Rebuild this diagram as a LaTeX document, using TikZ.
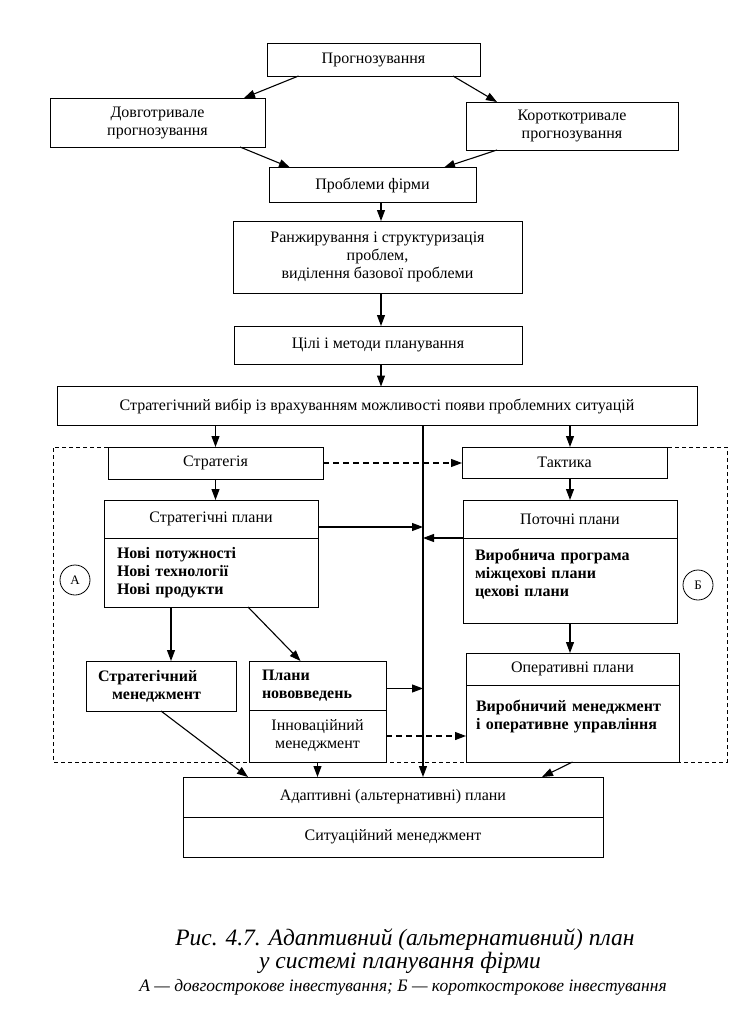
\documentclass[tikz,border=0pt]{standalone}
\usepackage{fontspec}
\setmainfont{Liberation Serif}
\usepackage{tikz}
\usetikzlibrary{arrows.meta,positioning,calc}
\tikzset{%
  box/.style={draw,line width=0.8pt,align=center,inner sep=3pt,outer sep=0pt},
  listbox/.style={box,font=\fontsize{16}{18}\selectfont\bfseries,align=left},
  arrow/.style={-{Triangle[length=11pt,width=8pt]}, line width=1.1pt}%
}

\begin{document}
\begin{tikzpicture}[
    x=1pt, y=-1pt,
    font=\fontsize{16}{18}\selectfont,
    dasharrow/.style={arrow, dash pattern=on 6pt off 4pt},
    frame/.style={draw, line width=0.8pt, dash pattern=on 4pt off 3pt},
    letter/.style={
        draw,
        circle,
        minimum size=30pt,
        inner sep=0pt,
        line width=0.8pt,
        font=\fontsize{13}{14}\selectfont
    },
    caption/.style={font=\fontsize{23.5}{25}\selectfont\itshape}
]
\useasboundingbox (0,0) rectangle (747,1011);

% Nodes
\node[box, minimum width=213, minimum height=33] (prog) at (373.5,59.5) {Прогнозування};
\node[box, minimum width=215, minimum height=49] (longf) at (157.5,122.5) {Довготривале\\прогнозування};
\node[box, minimum width=212, minimum height=48] (shortf) at (572,126) {Короткотривале\\прогнозування};
\node[box, minimum width=207, minimum height=35] (probl) at (372.5,185) {Проблеми фірми};
\node[box, minimum width=289, minimum height=72] (rank) at (377.5,257) {Ранжирування і структуризація\\проблем,\\виділення базової проблеми};
\node[box, minimum width=288, minimum height=38] (goals) at (378,345) {Цілі і методи планування};
\node[box, minimum width=640, minimum height=39] (choice) at (377,406) {Стратегічний вибір із врахуванням можливості появи проблемних ситуацій};

\node[box, minimum width=215, minimum height=32] (strat) at (215.5,463) {Стратегія};
\node[box, minimum width=205, minimum height=31] (tact) at (564.5,462.5) {Тактика};

\node[box, minimum width=214, minimum height=38] (stratplan) at (211,519) {Стратегічні плани};
\node[listbox, text width=188, inner xsep=13, minimum height=69, below=0pt of stratplan] (stratlist) {Нові потужності\\Нові технології\\Нові продукти};
\node[box, minimum width=214, minimum height=38] (curplan) at (570,519) {Поточні плани};
\node[listbox, text width=190, inner xsep=12, text depth=52pt, minimum height=85, below=0pt of curplan] (curlist) {Виробнича програма\\міжцехові плани\\цехові плани};

\node[letter] (circA) at (75,580) {А};
\node[letter] (circB) at (698,585) {Б};

\node[listbox, text width=126, inner xsep=12, minimum height=50] (stratman) at (161,686) {Стратегічний\\\hspace*{14pt}менеджмент};
\node[listbox, text width=111, inner xsep=13, minimum height=49] (innovtop) at (317.5,685.5) {Плани\\нововведень};
\node[box, minimum width=137, minimum height=52, below=0pt of innovtop] (innovbot) {Інноваційний\\менеджмент};
\node[box, minimum width=213, minimum height=32] (operplan) at (572.5,669) {Оперативні плани};
\node[listbox, text width=193, inner xsep=10, text depth=36pt, minimum height=77, below=0pt of operplan] (operlist) {Виробничий менеджмент\\і оперативне управління};

\node[box, minimum width=420, minimum height=40] (adapt) at (393,797) {Адаптивні (альтернативні) плани};
\node[box, minimum width=420, minimum height=40, below=0pt of adapt] (situat) {Ситуаційний менеджмент};

% Caption
\node[caption] (cap1) at (405,940) {Рис. 4.7. Адаптивний (альтернативний) план};
\node[caption] (cap2) at (400,963) {у системі планування фірми};
\node[font=\fontsize{17.5}{19}\selectfont\itshape] (cap3) at (403,987) {А — довгострокове інвестування; Б — короткострокове інвестування};

% Frame round strategy and tactics
\coordinate (col) at (381,0);
\coordinate (mid) at (423,0);
\coordinate (fl) at (53,0);
\coordinate (fr) at (727,0);
\draw[frame] (strat.north west) -- (strat.north west -| fl) |- (innovbot.south -| fr) -- (tact.north east -| fr) -- (tact.north east);

% Arrows
\draw[arrow] ([xshift=-75pt]prog.south) -- ([xshift=-21pt]longf.north east);
\draw[arrow] ([xshift=-27pt]prog.south east) -- ([xshift=31pt]shortf.north west);
\draw[arrow] ([xshift=-25pt]longf.south east) -- ([xshift=21pt]probl.north west);
\draw[arrow] ([xshift=31pt]shortf.south west) -- ([xshift=-32pt]probl.north east);
\draw[arrow] (probl.south -| col) -- (rank.north -| col);
\draw[arrow] (rank.south -| col) -- (goals.north -| col);
\draw[arrow] (goals.south -| col) -- (choice.north -| col);
\draw[arrow] (strat.north |- choice.south) -- (strat.north);
\draw[arrow] (curplan.north |- choice.south) -- (curplan.north |- tact.north);
\draw[arrow] (choice.south -| mid) -- (adapt.north -| mid);
\draw[dasharrow] (strat.east) -- (strat.east -| tact.west);
\draw[arrow] (strat.south) -- (strat.south |- stratplan.north);
\draw[arrow] (curplan.north |- tact.south) -- (curplan.north);
\draw[arrow] ([yshift=-8pt]stratplan.east) -- ([yshift=-8pt]stratplan.east -| mid);
\draw[arrow] (curplan.south west) -- (curplan.south west -| mid);
\draw[arrow] ([xshift=-40pt]stratlist.south) -- ([xshift=-40pt]stratlist.south |- stratman.north);
\draw[arrow] ([xshift=37pt]stratlist.south) -- ([xshift=-17pt]innovtop.north);
\draw[arrow] (curlist.south) -- (curlist.south |- operplan.north);
\draw[arrow] ([yshift=-3pt]innovtop.east) -- ([yshift=-3pt]innovtop.east -| mid);
\draw[dasharrow] (innovbot.east) -- (innovbot.east -| operlist.west);
\draw[arrow] (stratman.south) -- ([xshift=65pt]adapt.north west);
\draw[arrow] (innovbot.south) -- (innovbot.south |- adapt.north);
\draw[arrow] (operlist.south) -- ([xshift=-61pt]adapt.north east);

\end{tikzpicture}
\end{document}
